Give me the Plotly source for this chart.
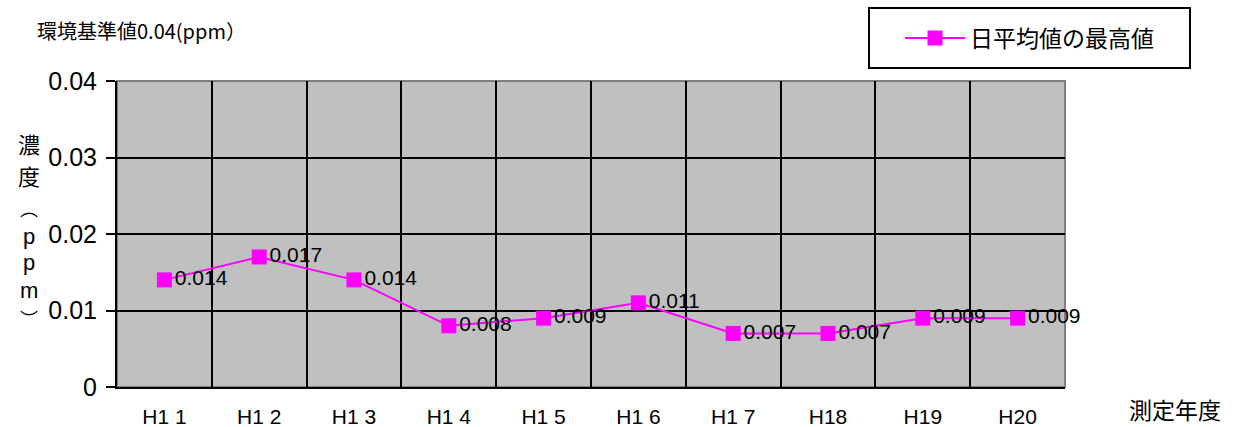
import plotly.graph_objects as go

categories = ["H1 1", "H1 2", "H1 3", "H1 4", "H1 5", "H1 6", "H1 7", "H18", "H19", "H20"]
values = [0.014, 0.017, 0.014, 0.008, 0.009, 0.011, 0.007, 0.007, 0.009, 0.009]
series_name = "日平均値の最高値"
y_ticks = [0, 0.01, 0.02, 0.03, 0.04]
y_ticktext = ["0", "0.01", "0.02", "0.03", "0.04"]
y_grid = [0.01, 0.02, 0.03]
y_title_chars = ["濃", "度", "︵", "p", "p", "m", "︶"]

FONT = "Liberation Sans, Arial, Noto Sans CJK JP"
CJK = "Noto Sans CJK JP, Liberation Sans"

L, R, T, B = 117, 179, 81, 40
W, H = 1244, 427
PW, PH = W - L - R, H - T - B


def px(xp):
    return (xp - L) / PW


def py(yp):
    return (H - B - yp) / PH


xs = list(range(len(categories)))

fig = go.Figure()
fig.add_trace(go.Scatter(
    x=xs, y=values, name=series_name,
    mode="lines+markers+text",
    line=dict(color="#FF00FF", width=2),
    marker=dict(symbol="square", size=15, color="#FF00FF"),
    text=[f"{v:.3f}" for v in values],
    textposition="middle right",
    textfont=dict(family=FONT, size=21, color="black"),
    cliponaxis=False,
))

annotations = [
    dict(text="環境基準値0.04(ppm）", xref="paper", yref="paper", x=px(35), y=py(31),
         xanchor="left", yanchor="middle", showarrow=False,
         font=dict(family=CJK, size=20, color="black")),
    dict(text="測定年度", xref="paper", yref="paper", x=px(1127), y=py(409),
         xanchor="left", yanchor="middle", showarrow=False,
         font=dict(family=CJK, size=23, color="black")),
]
# (pixel y, font family, size) per stacked character of the y-axis title
title_pos = [(143, CJK, 22), (175, CJK, 22), (208, CJK, 18), (236, FONT, 22),
             (262, FONT, 22), (290, FONT, 22), (318, CJK, 18)]
for ch, (yp, fam, sz) in zip(y_title_chars, title_pos):
    annotations.append(dict(text=ch, xref="paper", yref="paper", x=px(29), y=py(yp),
                            xanchor="center", yanchor="middle", showarrow=False,
                            font=dict(family=fam, size=sz, color="black")))

fig.update_layout(
    width=W, height=H,
    margin=dict(l=L, r=R, t=T, b=B, autoexpand=False),
    paper_bgcolor="white",
    plot_bgcolor="#C0C0C0",
    showlegend=True,
    legend=dict(
        x=px(900), y=py(38), xanchor="left", yanchor="middle",
        borderwidth=0, bgcolor="rgba(0,0,0,0)",
        font=dict(family=CJK, size=23, color="black"),
        itemwidth=60,
    ),
    xaxis=dict(
        range=[-0.5, len(categories) - 0.5],
        tickvals=xs, ticktext=categories,
        tickfont=dict(family=FONT, size=21, color="black"),
        showgrid=False, zeroline=False,
        showline=True, linecolor="black", linewidth=2,
        ticks="outside", ticklen=10, tickcolor="rgba(0,0,0,0)",
        minor=dict(tickvals=[i + 0.5 for i in xs[:-1]], showgrid=True,
                   gridcolor="black", gridwidth=2, ticks=""),
    ),
    yaxis=dict(
        range=[0, 0.04],
        tickvals=y_ticks, ticktext=y_ticktext,
        tickfont=dict(family=FONT, size=25, color="black"),
        showgrid=False,
        minor=dict(tickvals=y_grid, showgrid=True, gridcolor="black", gridwidth=2, ticks=""),
        zeroline=False,
        showline=True, linecolor="black", linewidth=2,
        ticks="outside", ticklen=9, tickcolor="black", tickwidth=2,
        ticklabelstandoff=4,
    ),
    shapes=[
        dict(type="rect", xref="paper", yref="paper", x0=0, y0=0, x1=1, y1=1,
             line=dict(color="#808080", width=2), layer="below"),
        dict(type="rect", xref="paper", yref="paper", x0=px(869), y0=py(68), x1=px(1190), y1=py(8),
             line=dict(color="black", width=2), fillcolor="white", layer="above"),
    ],
    annotations=annotations,
)

fig.write_html("out.html", config={"displayModeBar": False},
               post_script="document.body.style.margin='0';document.body.style.overflow='hidden';")
